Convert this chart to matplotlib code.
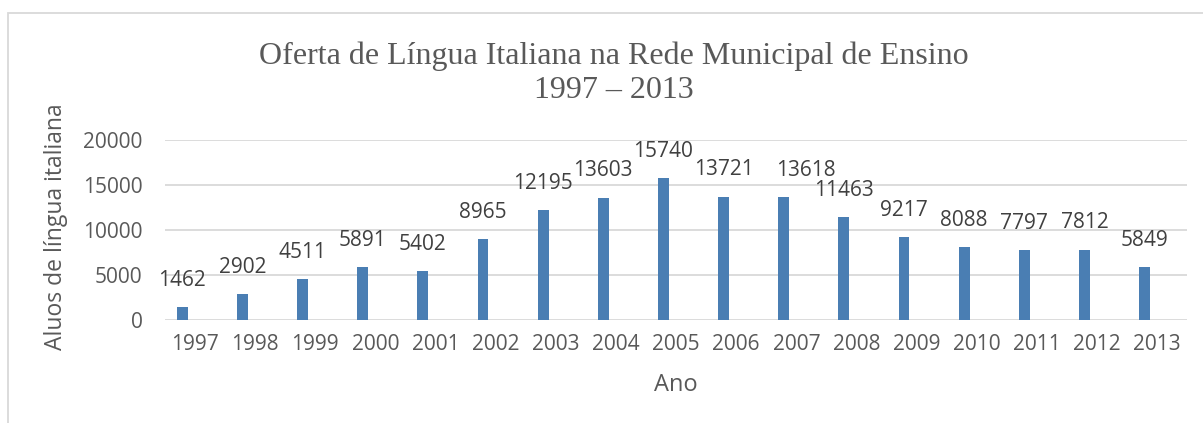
import matplotlib
matplotlib.use('Agg')
import matplotlib.pyplot as plt
from matplotlib.patches import Rectangle

anos = [str(a) for a in range(1997, 2014)]
alunos = [1462, 2902, 4511, 5891, 5402, 8965, 12195, 13603, 15740,
          13721, 13618, 11463, 9217, 8088, 7797, 7812, 5849]
yticks = [0, 5000, 10000, 15000, 20000]

txt = '#595959'
sans = ['Open Sans', 'DejaVu Sans']

fig = plt.figure(figsize=(12.03, 4.23), dpi=100)
ax = fig.add_axes([0.137, 0.2435, 0.850, 0.4255])

x = list(range(len(anos)))
# as barras ficam um pouco à esquerda do centro da categoria (como no Excel)
xb = [i - 0.21 for i in x]
ax.bar(xb, alunos, width=0.18, color='#4A7EB3', zorder=3)
for ano, xi, v in zip(anos, xb, alunos):
    dx = 0.37 if ano == '2007' else 0  # rótulo deslocado no original
    ax.text(xi + dx, v + 1800, str(v), ha='center', va='bottom', fontsize=15,
            color='#404040', family=sans)

ax.set_xlim(-0.5, len(anos) - 0.5)
ax.set_ylim(0, 20000)
ax.set_yticks(yticks)
ax.set_yticklabels([str(t) for t in yticks], fontsize=15, color=txt, family=sans)
ax.set_xticks(x)
ax.set_xticklabels(anos, fontsize=15, color=txt, family=sans)
ax.tick_params(axis='y', length=0, pad=16)
ax.tick_params(axis='x', length=0, pad=10)
ax.grid(axis='y', color='#D9D9D9', linewidth=1.3, zorder=0)
for s in ax.spines.values():
    s.set_visible(False)

ax.set_xlabel('Ano', fontsize=17, color=txt, family=sans, labelpad=13)
fig.text(0.0466, 0.463, 'Aluos de língua italiana', rotation=90, ha='center',
         va='center', fontsize=16.5, color=txt, family=sans)

fig.text(0.51, 0.868, 'Oferta de Língua Italiana na Rede Municipal de Ensino',
         ha='center', va='center', fontsize=23, color=txt, family='Liberation Serif')
fig.text(0.51, 0.785, '1997 – 2013', ha='center', va='center', fontsize=23,
         color=txt, family='Liberation Serif')

fig.add_artist(Rectangle((8 / 1203, -0.1), 1.2, 1.1 - 13 / 423,
                         transform=fig.transFigure, fill=False,
                         edgecolor='#D9D9D9', linewidth=1.3))

fig.savefig('out.png', dpi=100, facecolor='white')
